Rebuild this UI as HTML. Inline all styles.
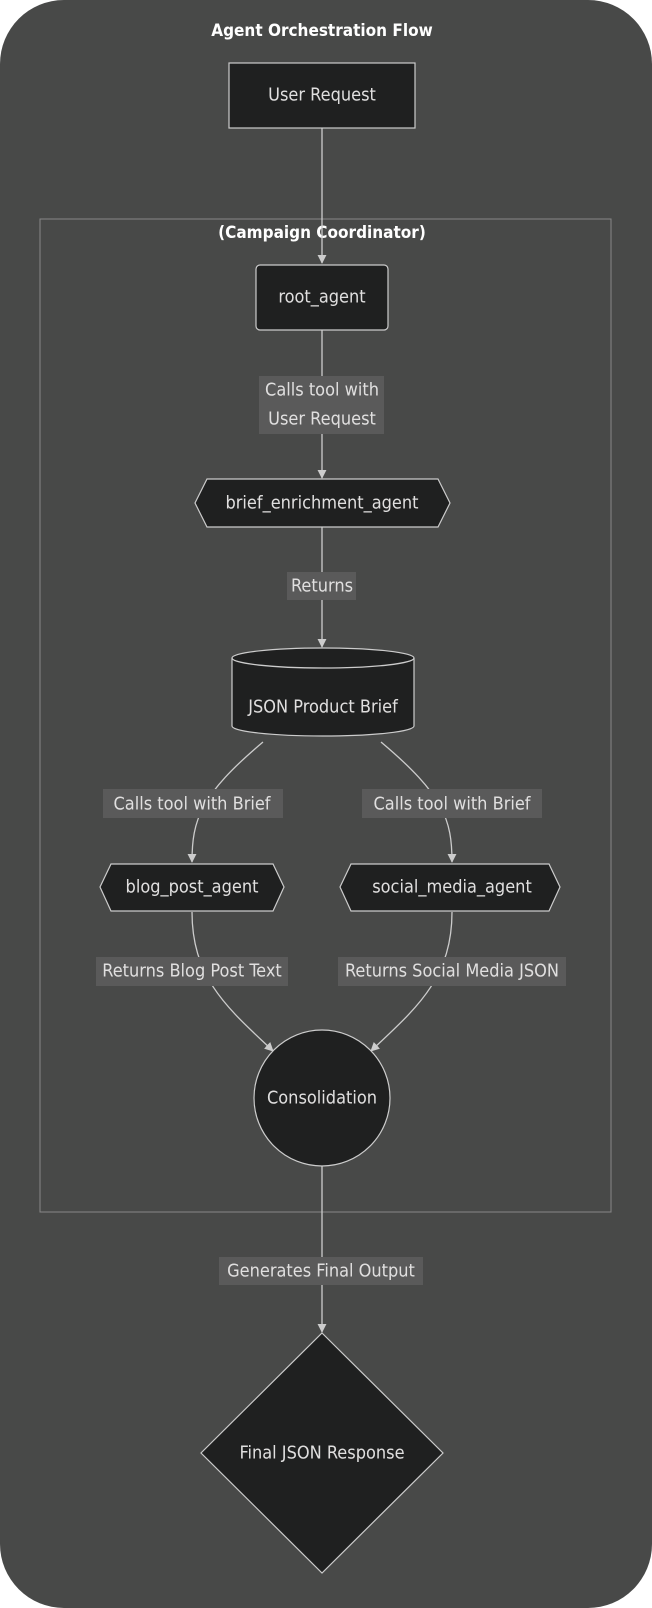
<!DOCTYPE html>
<html><head><style>
html,body{margin:0;padding:0;background:#fff;}
svg{display:block;}
text{font-family:"DejaVu Sans Condensed","DejaVu Sans","Liberation Sans",sans-serif;font-size:18px;fill:#e0dfdf;text-anchor:middle;dominant-baseline:central;}
.t{font-weight:bold;fill:#fff;font-size:17px;}
.n{fill:#1f2020;stroke:#cccccc;stroke-width:1.2;}
.e{fill:none;stroke:#cccccc;stroke-width:1.3;}
.lb{fill:#5a5a5a;}
</style></head><body>
<svg width="652" height="1608" viewBox="0 0 652 1608">
<defs><marker id="a" viewBox="0 0 10 10" refX="9" refY="5" markerWidth="7" markerHeight="7" orient="auto"><path d="M0,0L10,5L0,10z" fill="#cccccc"/></marker></defs>
<rect x="0" y="0" width="652" height="1608" rx="64" fill="#484948"/>
<text class="t" x="322" y="31">Agent Orchestration Flow</text>
<rect x="40" y="219" width="571" height="993" fill="none" stroke="#888" stroke-width="1"/>
<text class="t" x="322" y="233">(Campaign Coordinator)</text>

<path class="e" d="M322,128V263" marker-end="url(#a)"/>
<path class="e" d="M322,330V478" marker-end="url(#a)"/>
<path class="e" d="M322,527V647" marker-end="url(#a)"/>
<path class="e" d="M263,742C200,795 192,820 192,862" marker-end="url(#a)"/>
<path class="e" d="M381,742C444,795 452,820 452,862" marker-end="url(#a)"/>
<path class="e" d="M192,912C192,980 230,1010 273,1051" marker-end="url(#a)"/>
<path class="e" d="M452,912C452,980 414,1010 371,1051" marker-end="url(#a)"/>
<path class="e" d="M322,1166V1332" marker-end="url(#a)"/>

<rect class="n" x="229" y="63" width="186" height="65"/>
<text x="322" y="95">User Request</text>
<rect class="n" x="256" y="265" width="132" height="65" rx="4"/>
<text x="322" y="297">root_agent</text>

<rect class="lb" x="259" y="376" width="125" height="58"/>
<text x="322" y="390">Calls tool with</text>
<text x="322" y="419">User Request</text>

<polygon class="n" points="207,479 438,479 450,503 438,527 207,527 195,503"/>
<text x="322" y="503">brief_enrichment_agent</text>

<rect class="lb" x="287" y="572" width="69" height="28"/>
<text x="322" y="586">Returns</text>

<path class="n" d="M232,658 A91,10 0 0 1 414,658 V726 A91,10 0 0 1 232,726 Z"/>
<path class="e" d="M232,658 A91,10 0 0 0 414,658"/>
<text x="323" y="707">JSON Product Brief</text>

<rect class="lb" x="103" y="789" width="180" height="29"/>
<text x="192" y="804">Calls tool with Brief</text>
<rect class="lb" x="362" y="789" width="180" height="29"/>
<text x="452" y="804">Calls tool with Brief</text>

<polygon class="n" points="111,864 273,864 284,887 273,911 111,911 100,887"/>
<text x="192" y="887">blog_post_agent</text>
<polygon class="n" points="351,864 549,864 560,887 549,911 351,911 340,887"/>
<text x="452" y="887">social_media_agent</text>

<rect class="lb" x="96" y="957" width="192" height="29"/>
<text x="192" y="971">Returns Blog Post Text</text>
<rect class="lb" x="338" y="957" width="228" height="29"/>
<text x="452" y="971">Returns Social Media JSON</text>

<circle class="n" cx="322" cy="1098" r="68"/>
<text x="322" y="1098">Consolidation</text>

<rect class="lb" x="219" y="1257" width="204" height="28"/>
<text x="321" y="1271">Generates Final Output</text>

<polygon class="n" points="322,1333 443,1453 322,1573 201,1453"/>
<text x="322" y="1453">Final JSON Response</text>
</svg>
</body></html>
